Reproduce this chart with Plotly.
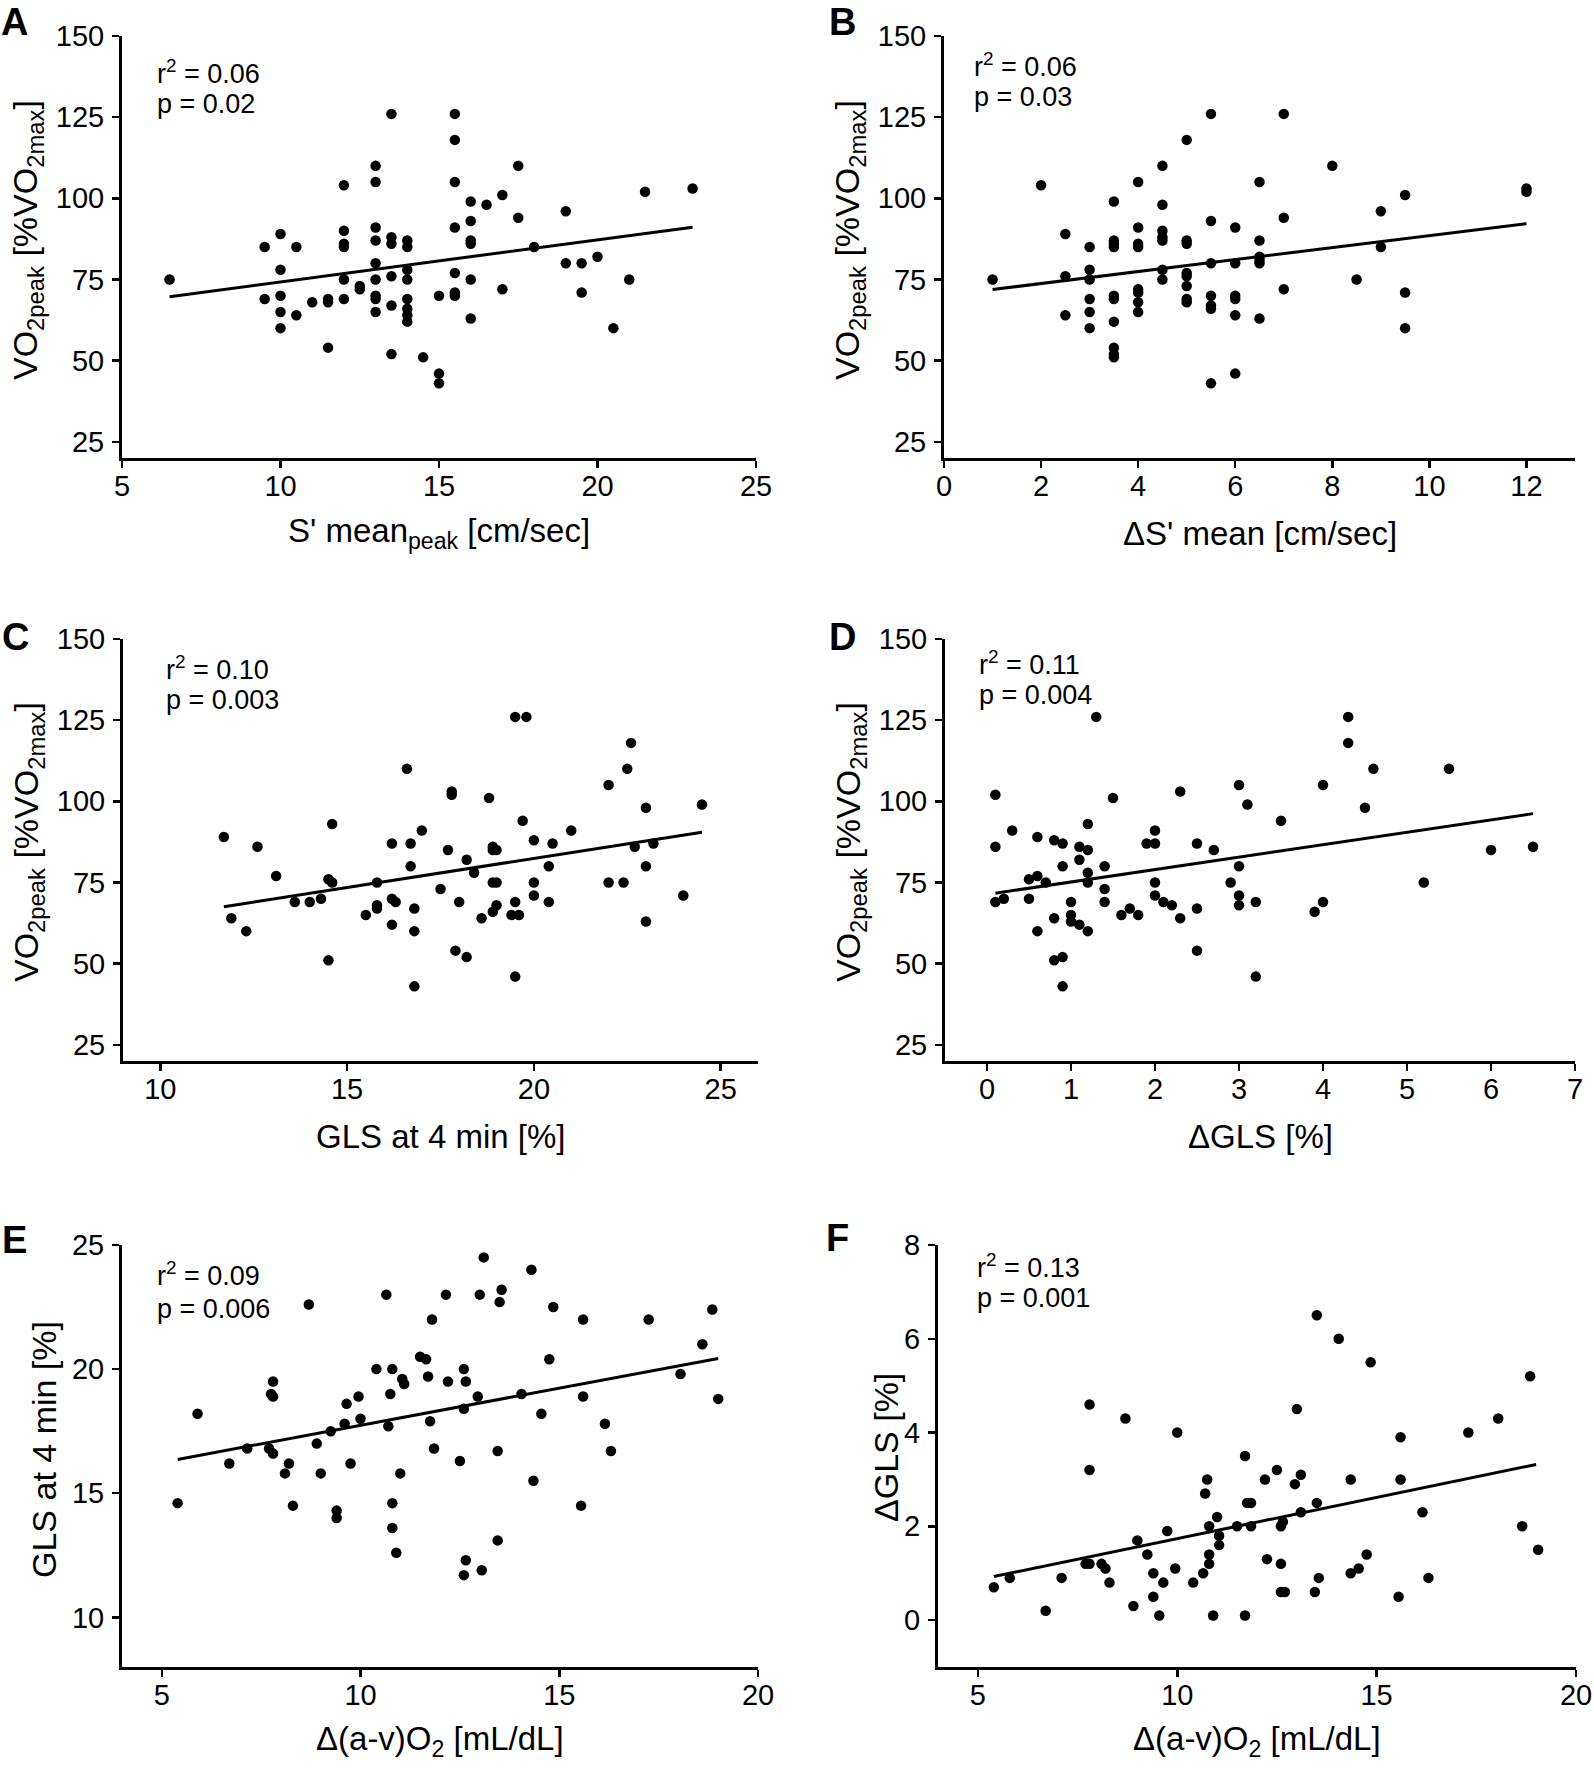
import plotly.graph_objects as go

W, H = 1594, 1770
FONT = "Liberation Sans, Arial, sans-serif"

# ---------------- data ----------------
# Panel A: S' mean_peak vs VO2peak
a_x = [6.5, 9.5, 9.5, 10, 10, 10, 10, 10, 10.5, 10.5, 11, 11.5, 11.5, 11.5,
       12, 12, 12, 12, 12, 12, 12.5, 12.5, 13, 13, 13, 13, 13, 13, 13, 13, 13,
       13.5, 13.5, 13.5, 13.5, 13.5, 13.5, 14, 14, 14, 14, 14, 14, 14, 14,
       14.5, 15, 15, 15, 15.5, 15.5, 15.5, 15.5, 15.5, 15.5, 15.5,
       16, 16, 16, 16, 16, 16, 16.5, 17, 17, 17.5, 17.5, 18, 19, 19, 19.5, 19.5,
       20, 20.5, 21, 21.5, 23]
a_y = [75, 85, 69, 89, 78, 70, 65, 60, 85, 64, 68, 54, 69, 68,
       104, 90, 86, 85, 75, 69, 73, 72, 110, 105, 91, 87, 80, 75, 70, 69, 65,
       126, 88, 86, 76, 67, 52, 87, 85, 78, 75, 69, 66, 64, 62,
       51, 70, 46, 43, 126, 118, 105, 91, 77, 71, 70,
       99, 93, 87, 86, 75, 63, 98, 101, 72, 110, 94, 85, 96, 80, 80, 71,
       82, 60, 75, 102, 103]
fit_a_x = [6.5, 23]
fit_a_y = [69.7, 91.1]

# Panel B: delta S' mean vs VO2peak
b_x = [1, 2, 2.5, 2.5, 2.5, 3, 3, 3, 3, 3, 3,
       3.5, 3.5, 3.5, 3.5, 3.5, 3.5, 3.5, 3.5, 3.5, 3.5,
       4, 4, 4, 4, 4, 4, 4, 4,
       4.5, 4.5, 4.5, 4.5, 4.5, 4.5, 4.5,
       5, 5, 5, 5, 5, 5, 5, 5,
       5.5, 5.5, 5.5, 5.5, 5.5, 5.5, 5.5,
       6, 6, 6, 6, 6, 6,
       6.5, 6.5, 6.5, 6.5, 6.5, 6.5,
       7, 7, 7, 8, 8.5, 9, 9, 9.5, 9.5, 9.5, 12, 12]
b_y = [75, 104, 89, 76, 64, 85, 78, 75, 69, 65, 60,
       99, 87, 86, 85, 70, 69, 62, 54, 52, 51,
       105, 91, 86, 85, 72, 71, 68, 65,
       110, 98, 90, 88, 87, 78, 75,
       118, 87, 86, 77, 76, 73, 69, 68,
       126, 93, 80, 70, 67, 66, 43,
       91, 80, 70, 69, 64, 46,
       105, 87, 82, 81, 80, 63,
       126, 94, 72, 110, 75, 96, 85, 101, 71, 60, 103, 102]
fit_b_x = [1, 12]
fit_b_y = [71.9, 92.2]

# Panel C: GLS at 4 min vs VO2peak
c_x = [11.7, 11.9, 12.3, 12.6, 13.1, 13.6, 14.0, 14.3, 14.5, 14.6, 14.6, 14.5,
       15.5, 15.8, 15.8, 15.8, 16.2, 16.2, 16.3, 16.2, 16.6, 16.7, 16.7, 16.8,
       16.8, 16.8, 17.0, 17.5, 17.7, 17.8, 17.8, 17.9, 18.0, 18.2, 18.2, 18.4,
       18.6, 18.8, 18.9, 18.9, 19.0, 18.9, 19.0, 18.9, 19.0, 19.4, 19.5, 19.5,
       19.8, 19.6, 19.5, 19.7, 20.0, 20.0, 20.0, 20.4, 20.4, 20.5, 21.0,
       22.0, 22.0, 22.4, 22.5, 22.6, 22.7, 23.0, 23.0, 23.0, 23.2, 24.0, 24.5]
c_y = [89, 64, 60, 86, 77, 69, 69, 70, 76, 75, 93, 51,
       65, 75, 68, 67, 87, 70, 69, 62, 110, 87, 80, 67,
       60, 43, 91, 73, 85, 103, 102, 54, 69, 82, 52, 78,
       64, 101, 86, 85, 85, 75, 75, 66, 68, 65, 69, 126,
       126, 65, 46, 94, 88, 75, 71, 80, 69, 87, 91,
       105, 75, 75, 110, 118, 86, 98, 80, 63, 87, 71, 99]
fit_c_x = [11.7, 24.5]
fit_c_y = [67.5, 90.5]

# Panel D: delta GLS vs VO2peak
d_x = [0.1, 0.1, 0.1, 0.2, 0.3, 0.5, 0.5, 0.6, 0.6, 0.6, 0.7, 0.8, 0.8, 0.8,
       0.9, 0.9, 0.9, 0.9, 1.0, 1.0, 1.0, 1.1, 1.1, 1.1, 1.2, 1.2, 1.2, 1.2, 1.2,
       1.3, 1.4, 1.4, 1.4, 1.5, 1.6, 1.7, 1.8, 1.9, 2.0, 2.0, 2.0, 2.0, 2.1, 2.2,
       2.3, 2.3, 2.5, 2.5, 2.5, 2.7, 2.9, 3.0, 3.0, 3.0, 3.0, 3.1, 3.2, 3.2,
       3.5, 3.9, 4.0, 4.0, 4.3, 4.3, 4.5, 4.6, 5.2, 5.5, 6.0, 6.5]
d_y = [102, 86, 69, 70, 91, 76, 70, 89, 77, 60, 75, 88, 64, 51,
       87, 80, 52, 43, 69, 65, 63, 86, 82, 62, 93, 85, 78, 75, 60,
       126, 80, 73, 69, 101, 65, 67, 65, 87, 87, 91, 75, 71, 69, 68,
       103, 64, 87, 67, 54, 85, 75, 105, 80, 71, 68, 99, 69, 46,
       94, 66, 105, 69, 126, 118, 98, 110, 75, 110, 85, 86]
fit_d_x = [0.1, 6.5]
fit_d_y = [71.7, 96.2]

# Panel E: delta (a-v)O2 vs GLS at 4 min
e_x = [5.4, 5.9, 6.7, 7.15, 7.7, 7.75, 7.8, 7.8, 7.8, 8.1, 8.2, 8.3, 8.7, 8.9,
       9.0, 9.25, 9.4, 9.4, 9.6, 9.65, 9.75, 9.95, 10.0, 10.4, 10.65, 10.7, 10.75,
       10.8, 10.8, 10.8, 10.9, 11.0, 11.05, 11.1, 11.5, 11.65, 11.7, 11.75, 11.8,
       11.85, 12.15, 12.2, 12.5, 12.6, 12.6, 12.6, 12.65, 12.65, 12.95, 13.0,
       13.05, 13.1, 13.45, 13.45, 13.5, 13.55, 14.05, 14.3, 14.35, 14.55, 14.75,
       14.85, 15.55, 15.6, 15.6, 16.15, 16.3, 17.25, 18.05, 18.6, 18.85, 19.0]
e_y = [14.6, 18.2, 16.2, 16.8, 16.8, 19.0, 19.5, 18.9, 16.6, 15.8, 16.2, 14.5, 22.6, 17.0,
       15.8, 17.5, 14.3, 14.0, 17.8, 18.6, 16.2, 18.9, 18.0, 20.0, 23.0, 17.7, 19.0,
       20.0, 14.6, 13.6, 12.6, 15.8, 19.6, 19.4, 20.5, 20.4, 19.7, 17.9, 22.0,
       16.8, 23.0, 19.5, 16.3, 20.0, 18.4, 11.7, 19.5, 12.3, 18.9, 23.0,
       11.9, 24.5, 13.1, 16.7, 22.7, 23.2, 19.0, 24.0, 15.5, 18.2, 20.4,
       22.5, 14.5, 22.0, 18.9, 17.8, 16.7, 22.0, 19.8, 21.0, 22.4, 18.8]
fit_e_x = [5.4, 19.0]
fit_e_y = [16.36, 20.43]

# Panel F: delta (a-v)O2 vs delta GLS
f_x = [5.4, 5.8, 6.7, 7.1, 7.7, 7.8, 7.8, 7.8, 8.1, 8.2, 8.3, 8.7, 8.9, 9.0,
       9.25, 9.4, 9.4, 9.55, 9.65, 9.75, 9.95, 10.0, 10.4, 10.65, 10.75, 10.7,
       10.8, 10.8, 10.8, 10.9, 11.0, 11.05, 11.05, 11.5, 11.7, 11.7, 11.75, 11.85,
       11.85, 12.2, 12.25, 12.5, 12.6, 12.6, 12.65, 12.6, 12.7, 12.95, 13.0,
       13.1, 13.1, 13.45, 13.5, 13.5, 13.55, 14.05, 14.35, 14.35, 14.55, 14.75,
       14.85, 15.55, 15.6, 15.6, 16.15, 16.3, 17.3, 18.05, 18.65, 18.85, 19.05]
f_y = [0.7, 0.9, 0.2, 0.9, 1.2, 1.2, 4.6, 3.2, 1.2, 1.1, 0.8, 4.3, 0.3, 1.7,
       1.4, 1.0, 0.5, 0.1, 0.8, 1.9, 1.1, 4.0, 0.8, 1.0, 3.0, 2.7,
       2.0, 1.4, 1.2, 0.1, 2.2, 1.8, 1.6, 2.0, 0.1, 3.5, 2.5, 2.5,
       2.0, 3.0, 1.3, 3.2, 1.2, 2.0, 2.1, 0.6, 0.6, 2.9, 4.5,
       2.3, 3.1, 0.6, 2.5, 6.5, 0.9, 6.0, 3.0, 1.0, 1.1, 1.4,
       5.5, 0.5, 3.9, 3.0, 2.3, 0.9, 4.0, 4.3, 2.0, 5.2, 1.5]
fit_f_x = [5.4, 19.0]
fit_f_y = [0.93, 3.32]

# ---------------- text ----------------
ytitle_vo2 = "VO<sub>2peak</sub> [%VO<sub>2max</sub>]"
panels = [
    dict(letter="A", x=a_x, y=a_y, fx=fit_a_x, fy=fit_a_y,
         xtitle="S' mean<sub>peak</sub> [cm/sec]", ytitle=ytitle_vo2,
         r2="r<sup>2</sup> = 0.06", p="p = 0.02",
         xr=[5, 25], xt=[5, 10, 15, 20, 25], yr=[20, 150], yt=[25, 50, 75, 100, 125, 150],
         box=(122, 756, 36, 458), letter_xy=(15, 22), ytitle_xy=(28, 240), xtitle_xy=(439, 533),
         r2_xy=(155, 72), p_xy=(155, 104)),
    dict(letter="B", x=b_x, y=b_y, fx=fit_b_x, fy=fit_b_y,
         xtitle="ΔS' mean [cm/sec]", ytitle=ytitle_vo2,
         r2="r<sup>2</sup> = 0.06", p="p = 0.03",
         xr=[0, 13], xt=[0, 2, 4, 6, 8, 10, 12], yr=[20, 150], yt=[25, 50, 75, 100, 125, 150],
         box=(944, 1575, 36, 458), letter_xy=(842, 22), ytitle_xy=(850, 240), xtitle_xy=(1260, 533),
         r2_xy=(972, 65), p_xy=(972, 97)),
    dict(letter="C", x=c_x, y=c_y, fx=fit_c_x, fy=fit_c_y,
         xtitle="GLS at 4 min [%]", ytitle=ytitle_vo2,
         r2="r<sup>2</sup> = 0.10", p="p = 0.003",
         xr=[9, 26], xt=[10, 15, 20, 25], yr=[20, 150], yt=[25, 50, 75, 100, 125, 150],
         box=(123, 758, 639, 1061), letter_xy=(16, 637), ytitle_xy=(28, 842), xtitle_xy=(440, 1136),
         r2_xy=(164, 668), p_xy=(164, 700)),
    dict(letter="D", x=d_x, y=d_y, fx=fit_d_x, fy=fit_d_y,
         xtitle="ΔGLS [%]", ytitle=ytitle_vo2,
         r2="r<sup>2</sup> = 0.11", p="p = 0.004",
         xr=[-0.5, 7], xt=[0, 1, 2, 3, 4, 5, 6, 7], yr=[20, 150], yt=[25, 50, 75, 100, 125, 150],
         box=(945, 1575, 639, 1061), letter_xy=(842, 637), ytitle_xy=(850, 842), xtitle_xy=(1260, 1136),
         r2_xy=(977, 663), p_xy=(977, 695)),
    dict(letter="E", x=e_x, y=e_y, fx=fit_e_x, fy=fit_e_y,
         xtitle="Δ(a-v)O<sub>2</sub> [mL/dL]", ytitle="GLS at 4 min [%]",
         r2="r<sup>2</sup> = 0.09", p="p = 0.006",
         xr=[4, 20], xt=[5, 10, 15, 20], yr=[8, 25], yt=[10, 15, 20, 25],
         box=(122, 758, 1245, 1667), letter_xy=(15, 1240), ytitle_xy=(44, 1450), xtitle_xy=(440, 1741),
         r2_xy=(155, 1274), p_xy=(155, 1309)),
    dict(letter="F", x=f_x, y=f_y, fx=fit_f_x, fy=fit_f_y,
         xtitle="Δ(a-v)O<sub>2</sub> [mL/dL]", ytitle="ΔGLS [%]",
         r2="r<sup>2</sup> = 0.13", p="p = 0.001",
         xr=[4, 20], xt=[5, 10, 15, 20], yr=[-1, 8], yt=[0, 2, 4, 6, 8],
         box=(938, 1576, 1245, 1667), letter_xy=(838, 1238), ytitle_xy=(886, 1448), xtitle_xy=(1257, 1741),
         r2_xy=(975, 1266), p_xy=(975, 1298)),
]


def px(x):
    return x / W


def py(y):
    return 1 - y / H


fig = go.Figure()
annotations = []
axis_common = dict(
    showline=True, linecolor="black", linewidth=3,
    ticks="outside", ticklen=7, tickwidth=2.5, tickcolor="black",
    showgrid=False, zeroline=False, mirror=False, automargin=False,
    tickfont=dict(family=FONT, size=29, color="black"),
)

for i, p in enumerate(panels, start=1):
    suffix = "" if i == 1 else str(i)
    x0, x1, y0, y1 = p["box"]
    fig.add_trace(go.Scatter(
        x=p["x"], y=p["y"], mode="markers",
        marker=dict(size=10.5, color="black"),
        xaxis="x" + suffix, yaxis="y" + suffix, showlegend=False, cliponaxis=False))
    fig.add_trace(go.Scatter(
        x=p["fx"], y=p["fy"], mode="lines",
        line=dict(color="black", width=3),
        xaxis="x" + suffix, yaxis="y" + suffix, showlegend=False))
    fig.layout["xaxis" + suffix] = dict(
        axis_common, domain=[px(x0), px(x1)], range=p["xr"],
        tickmode="array", tickvals=p["xt"], anchor="y" + suffix,
        ticklabelstandoff=-7)
    fig.layout["yaxis" + suffix] = dict(
        axis_common, domain=[py(y1), py(y0)], range=p["yr"],
        tickmode="array", tickvals=p["yt"], anchor="x" + suffix,
        ticklabelstandoff=2)

    lx, ly = p["letter_xy"]
    annotations.append(dict(
        text="<b>%s</b>" % p["letter"], x=px(lx), y=py(ly), xref="paper", yref="paper",
        xanchor="center", yanchor="middle", showarrow=False,
        font=dict(family=FONT, size=38, color="black")))
    tx, ty = p["ytitle_xy"]
    annotations.append(dict(
        text=p["ytitle"], x=px(tx), y=py(ty), xref="paper", yref="paper",
        xanchor="center", yanchor="middle", showarrow=False, textangle=-90,
        font=dict(family=FONT, size=34, color="black")))
    tx, ty = p["xtitle_xy"]
    annotations.append(dict(
        text=p["xtitle"], x=px(tx), y=py(ty), xref="paper", yref="paper",
        xanchor="center", yanchor="middle", showarrow=False,
        font=dict(family=FONT, size=33, color="black")))
    for key in ("r2", "p"):
        tx, ty = p[key + "_xy"]
        annotations.append(dict(
            text=p[key], x=px(tx), y=py(ty), xref="paper", yref="paper",
            xanchor="left", yanchor="middle", showarrow=False,
            font=dict(family=FONT, size=27, color="black")))

fig.update_layout(
    width=W, height=H, margin=dict(l=0, r=0, t=0, b=0, pad=0, autoexpand=False),
    autosize=False,
    paper_bgcolor="white", plot_bgcolor="white",
    annotations=annotations, showlegend=False,
    font=dict(family=FONT, color="black"),
)

fig.write_html(
    "out.html",
    config={"displayModeBar": False, "staticPlot": True},
    post_script="document.body.style.margin='0px';document.body.style.overflow='hidden';",
)
